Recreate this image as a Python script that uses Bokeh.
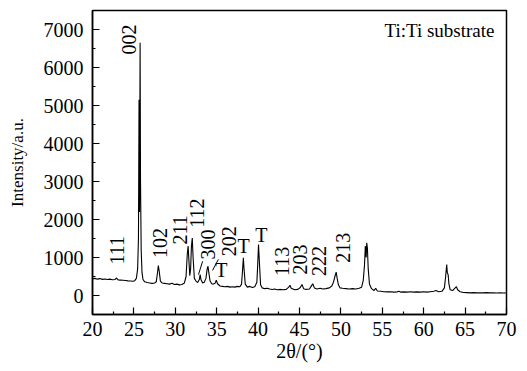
import math
from bokeh.plotting import figure
from bokeh.models import Range1d, Label, ColumnDataSource, FixedTicker
from bokeh.embed import file_html
from bokeh.resources import INLINE
from bokeh.core.properties import value

# ---- data ----
two_theta = [
    20.0, 20.3, 20.6, 20.9, 21.2, 21.5, 21.8, 22.1, 22.4, 22.7, 22.9, 23.1, 23.4, 23.7,
    24.0, 24.3, 24.6, 24.9, 25.1, 25.3, 25.45, 25.55, 25.62, 25.68, 25.75, 25.8, 25.88,
    25.98, 26.1, 26.3, 26.6, 26.9, 27.2, 27.5, 27.7, 27.85, 27.95, 28.05, 28.2, 28.4,
    28.7, 29.0, 29.3, 29.6, 29.9, 30.2, 30.5, 30.8, 31.1, 31.3, 31.45, 31.55, 31.65,
    31.75, 31.85, 31.95, 32.05, 32.15, 32.3, 32.5, 32.7, 32.9, 33.0, 33.1, 33.3, 33.5,
    33.7, 33.85, 33.95, 34.05, 34.2, 34.4, 34.6, 34.8, 34.95, 35.1, 35.4, 35.7, 36.0,
    36.3, 36.6, 36.9, 37.2, 37.5, 37.8, 38.0, 38.1, 38.22, 38.3, 38.45, 38.7, 39.0,
    39.3, 39.6, 39.85, 39.95, 40.05, 40.15, 40.3, 40.5, 40.8, 41.1, 41.4, 41.7, 42.0,
    42.3, 42.6, 43.0, 43.4, 43.7, 43.85, 44.0, 44.4, 44.8, 45.1, 45.3, 45.5, 45.8,
    46.2, 46.4, 46.6, 46.8, 47.1, 47.5, 47.8, 48.2, 48.6, 48.9, 49.1, 49.3, 49.43,
    49.55, 49.7, 49.9, 50.2, 50.6, 51.0, 51.4, 51.8, 52.2, 52.5, 52.7, 52.85, 52.95,
    53.05, 53.12, 53.2, 53.3, 53.45, 53.7, 54.0, 54.2, 54.4, 54.8, 55.2, 55.6, 56.0,
    56.4, 56.8, 57.0, 57.2, 57.6, 58.0, 58.4, 58.8, 59.2, 59.6, 60.0, 60.4, 60.8,
    61.2, 61.5, 61.8, 62.2, 62.5, 62.65, 62.78, 62.85, 62.95, 63.05, 63.2, 63.5, 63.8,
    63.95, 64.1, 64.4, 64.8, 65.2, 65.6, 66.0, 66.4, 66.8, 67.2, 67.6, 68.0, 68.4,
    68.8, 69.2, 69.6, 69.9,
]
intensity = [
    440, 450, 430, 445, 425, 435, 420, 430, 415, 420, 460, 410, 405, 400,
    395, 385, 380, 375, 390, 450, 700, 1500, 5150, 2200, 6650, 3000, 1200,
    600, 420, 360, 340, 330, 320, 330, 360, 600, 790, 650, 380, 330,
    320, 310, 300, 320, 290, 300, 280, 290, 330, 500, 1100, 1300, 900,
    520, 700, 1300, 1510, 1000, 450, 380, 340, 420, 550, 420, 330, 350,
    450, 700, 770, 600, 380, 310, 300, 320, 400, 310, 250, 240, 230,
    240, 220, 230, 220, 240, 230, 300, 600, 990, 700, 300, 220, 240,
    210, 230, 350, 800, 1340, 900, 280, 200, 180, 190, 170, 160, 170,
    150, 160, 150, 160, 220, 270, 190, 150, 160, 210, 290, 180, 160,
    170, 240, 310, 200, 170, 190, 170, 180, 200, 250, 350, 520, 615,
    450, 280, 200, 190, 180, 170, 180, 170, 190, 220, 400, 800, 1300,
    1000, 1385, 1250, 700, 300, 180, 130, 190, 120, 110, 100, 95, 100,
    90, 95, 110, 90, 95, 90, 100, 90, 95, 90, 100, 90, 100,
    110, 130, 100, 110, 200, 500, 815, 600, 550, 300, 150, 130, 200,
    230, 150, 100, 80, 75, 70, 75, 70, 70, 70, 75, 70, 70,
    65, 70, 65, 70,
]

x_ticks = [20, 25, 30, 35, 40, 45, 50, 55, 60, 65, 70]
y_ticks = [0, 1000, 2000, 3000, 4000, 5000, 6000, 7000]

peak_labels = ["111", "002", "102", "211", "112", "300", "202", "113", "203", "222", "213"]
peak_label_x = [22.9, 24.4, 28.2, 30.6, 32.6, 33.9, 36.5, 42.9, 45.0, 47.3, 50.2]
peak_label_y = [815, 6340, 990, 1340, 1780, 950, 1035, 510, 550, 510, 860]

t_label_x = [35.55, 38.24, 40.4]
t_label_y = [680, 1290, 1600]

leader_x0 = [33.3, 35.2]
leader_y0 = [900, 950]
leader_x1 = [32.8, 34.5]
leader_y1 = [550, 660]

FONT = "Times New Roman"

p = figure(width=518, height=368, output_backend="svg", toolbar_location=None,
           x_range=Range1d(20, 70), y_range=Range1d(-500, 7500),
           min_border_left=92, min_border_right=12, min_border_top=10, min_border_bottom=54)
p.xgrid.visible = False
p.ygrid.visible = False
p.outline_line_color = "black"
p.outline_line_width = 1.5
p.background_fill_color = "white"
p.border_fill_color = "white"

p.line(two_theta, intensity, line_color="black", line_width=1.1)

src = ColumnDataSource(dict(x=peak_label_x, y=peak_label_y, t=peak_labels))
p.text(x="x", y="y", text="t", source=src, angle=math.pi / 2,
       text_align="left", text_baseline="middle",
       text_font=value(FONT), text_font_size="20px", text_color="black")

tsrc = ColumnDataSource(dict(x=t_label_x, y=t_label_y, t=["T"] * len(t_label_x)))
p.text(x="x", y="y", text="t", source=tsrc, text_align="center", text_baseline="middle",
       text_font=value(FONT), text_font_size="20px", text_color="black")

p.segment(x0=leader_x0, y0=leader_y0, x1=leader_x1, y1=leader_y1,
          line_color="black", line_width=1)

p.add_layout(Label(x=68.55, y=6980, text="Ti:Ti substrate", text_align="right",
                   text_baseline="alphabetic", text_font=FONT, text_font_size="19px",
                   text_color="black"))

for ax in (p.xaxis[0], p.yaxis[0]):
    ax.axis_line_color = "black"
    ax.axis_line_width = 1.5
    ax.major_tick_in = 7
    ax.major_tick_out = 0
    ax.minor_tick_in = 3
    ax.minor_tick_out = 0
    ax.major_tick_line_width = 1.2
    ax.minor_tick_line_width = 1.2
    ax.major_label_text_font = FONT
    ax.major_label_text_font_size = "20px"
    ax.major_label_text_color = "black"
    ax.axis_label_text_font = FONT
    ax.axis_label_text_font_style = "normal"
    ax.axis_label_text_color = "black"

p.xaxis.ticker = FixedTicker(ticks=x_ticks, minor_ticks=[t + 2.5 for t in x_ticks[:-1]])
p.yaxis.ticker = FixedTicker(ticks=y_ticks, minor_ticks=[-500] + [t + 500 for t in y_ticks])
p.xaxis.axis_label = "2θ/(°)"
p.yaxis.axis_label = "Intensity/a.u."
p.xaxis.axis_label_text_font_size = "20px"
p.yaxis.axis_label_text_font_size = "17px"
p.xaxis.major_label_standoff = 7
p.yaxis.major_label_standoff = 9
p.xaxis.axis_label_standoff = 1
p.yaxis.axis_label_standoff = 14

open("out.html", "w").write(file_html(p, INLINE))
